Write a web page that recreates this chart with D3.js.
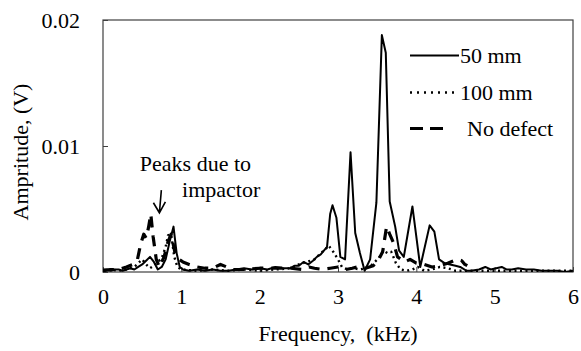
<!DOCTYPE html>
<html lang="en">

  <head>
    <meta charset="utf-8">
    <title>Amplitude spectrum</title>
    <script src="https://cdn.jsdelivr.net/npm/d3@7/dist/d3.min.js"></script>
  </head>

  <body style="margin: 0; background: #fff;">
    <svg width="581" height="351" id="mainsvg"></svg>
    <script>
      // ---- data ----
      const xTicks = [0, 1, 2, 3, 4, 5, 6];
      const yTicks = [0, 0.01, 0.02];
      const yTickLabels = ['0', '0.01', '0.02'];
      const seriesNames = ['50 mm', '100 mm', 'No defect'];

      // 50 mm (solid)
      const freq50 = [0, 0.05, 0.1, 0.15, 0.2, 0.25, 0.3, 0.35, 0.4, 0.45, 0.5, 0.55, 0.6, 0.65, 0.7, 0.75, 0.8, 0.85, 0.9, 0.94, 0.98, 1.02,
        1.1, 1.2, 1.3, 1.4, 1.5, 1.6, 1.7, 1.8, 1.9, 2.0, 2.1, 2.2, 2.3, 2.39, 2.45, 2.5, 2.56, 2.62, 2.68, 2.73, 2.78, 2.82, 2.86, 2.9, 2.93,
        2.98, 3.03, 3.09, 3.16, 3.22, 3.28, 3.34, 3.41, 3.49, 3.56, 3.61, 3.66, 3.73, 3.78, 3.84, 3.95, 4.05, 4.17, 4.23, 4.29, 4.36, 4.43,
        4.5, 4.56, 4.64, 4.7, 4.8, 4.88, 4.95, 5.02, 5.09, 5.15, 5.22, 5.3, 5.4, 5.5, 5.6, 5.7, 5.8, 5.9, 6.0];
      const amp50 = [0.0002, 0.0002, 0.0001, 0.0002, 0.0002, 0.0001, 0.0002, 0.0003, 0.0002, 0.0004, 0.0006, 0.0009, 0.0012, 0.0008, 0.0002, 0.0004, 0.0010, 0.0024, 0.0036, 0.0015, 0.0004, 0.0002,
        0.0001, 0.0002, 0.0001, 0.0002, 0.0001, 0.0001, 0.0002, 0.0003, 0.0002, 0.0003, 0.0002, 0.0004, 0.0003, 0.0003, 0.0005, 0.0005, 0.0008, 0.0006, 0.0009, 0.0012, 0.0014, 0.0017, 0.0020, 0.0046, 0.0053,
        0.0043, 0.0012, 0.0010, 0.0095, 0.0031, 0.0015, 0.0001, 0.0010, 0.0055, 0.0188, 0.0174, 0.0056, 0.0036, 0.0017, 0.0012, 0.0052, 0.0004, 0.0037, 0.0032, 0.0010, 0.0007, 0.0006,
        0.0005, 0.0004, 0.0001, 0.0001, 0.0002, 0.0004, 0.0002, 0.0003, 0.0004, 0.0002, 0.0002, 0.0003, 0.0002, 0.0002, 0.0001, 0.0001, 0.0001, 0.0000, 0.0001];

      // 100 mm (dotted)
      const freq100 = [0, 0.1, 0.2, 0.3, 0.4, 0.45, 0.5, 0.55, 0.6, 0.65, 0.7, 0.75, 0.8, 0.83, 0.87, 0.91, 0.95, 1.0, 1.2, 1.4, 1.6, 1.8,
        2.0, 2.2, 2.4, 2.5, 2.6, 2.7, 2.78, 2.84, 2.88, 2.94, 3.0, 3.05, 3.12, 3.2, 3.28, 3.35, 3.42, 3.47, 3.52, 3.58, 3.63, 3.68, 3.74,
        3.8, 3.88, 3.95, 4.02, 4.1, 4.2, 4.3, 4.4, 4.5, 4.7, 4.9, 5.1, 5.3, 5.5, 5.7, 5.9, 6.0];
      const amp100 = [0.0001, 0.0002, 0.0001, 0.0002, 0.0004, 0.0007, 0.0010, 0.0006, 0.0003, 0.0005, 0.0008, 0.0011, 0.0020, 0.0029, 0.0030, 0.0012, 0.0004, 0.0002, 0.0001, 0.0002, 0.0001, 0.0002,
        0.0001, 0.0002, 0.0003, 0.0006, 0.0008, 0.0010, 0.0015, 0.0018, 0.0021, 0.0016, 0.0010, 0.0004, 0.0002, 0.0003, 0.0002, 0.0003, 0.0005, 0.0008, 0.0011, 0.0017, 0.0015, 0.0016, 0.0007,
        0.0002, 0.0001, 0.0002, 0.0004, 0.0001, 0.0002, 0.0004, 0.0003, 0.0001, 0.0001, 0.0001, 0.0001, 0.0001, 0.0001, 0.0001, 0.0001, 0.0001];

      // No defect (dashed)
      const freqNo = [0, 0.1, 0.2, 0.3, 0.38, 0.44, 0.48, 0.52, 0.55, 0.58, 0.61, 0.64, 0.68, 0.72, 0.78, 0.83, 0.87, 0.92, 0.97, 1.02,
        1.1, 1.2, 1.3, 1.4, 1.5, 1.58, 1.65, 1.8, 2.0, 2.2, 2.4, 2.55, 2.63, 2.7, 2.8, 2.9, 3.0, 3.1, 3.18, 3.25, 3.35, 3.45, 3.52,
        3.57, 3.62, 3.66, 3.71, 3.76, 3.85, 3.92, 4.0, 4.1, 4.2, 4.3, 4.4, 4.48, 4.53, 4.58, 4.62, 4.65];
      const ampNo = [0.0001, 0.0002, 0.0002, 0.0004, 0.0006, 0.0010, 0.0022, 0.0030, 0.0027, 0.0035, 0.0046, 0.0028, 0.0010, 0.0004, 0.0012, 0.0024, 0.0030, 0.0015, 0.0010, 0.0008,
        0.0006, 0.0004, 0.0003, 0.0003, 0.0006, 0.0004, 0.0002, 0.0002, 0.0003, 0.0003, 0.0003, 0.0002, 0.0004, 0.0003, 0.0002, 0.0003, 0.0004, 0.0002, 0.0003, 0.0004, 0.0003, 0.0005, 0.0010,
        0.0016, 0.0036, 0.0030, 0.0023, 0.0012, 0.0008, 0.0010, 0.0007, 0.0006, 0.0004, 0.0005, 0.0007, 0.0009, 0.0010, 0.0009, 0.0006, 0.0005];

      const svg = d3.select('#mainsvg');
      const width = +svg.attr('width');
      const height = +svg.attr('height');
      const margin = { top: 20, right: 8, bottom: 79, left: 103 };
      const innerWidth = width - margin.left - margin.right;
      const innerHeight = height - margin.top - margin.bottom;
      const fontSize = 22;
      const fontFamily = 'Liberation Serif';

      const xScale = d3.scaleLinear().domain([0, 6]).range([0, innerWidth]);
      const yScale = d3.scaleLinear().domain([0, 0.02]).range([innerHeight, 0]);

      const g = svg.append('g')
        .attr('transform', `translate(${margin.left}, ${margin.top})`)
        .attr('id', 'maingroup');

      // 坐标轴 (inward ticks)
      const xAxis = d3.axisBottom(xScale).tickValues(xTicks).tickSize(-5).tickPadding(16).tickFormat(d3.format('d'));
      const yAxis = d3.axisLeft(yScale).tickValues(yTicks).tickSize(-5).tickPadding(23)
        .tickFormat((d, i) => yTickLabels[i]);

      const xAxisGroup = g.append('g').attr('transform', `translate(0, ${innerHeight})`).call(xAxis);
      const yAxisGroup = g.append('g').call(yAxis);
      [xAxisGroup, yAxisGroup].forEach(ax => {
        ax.selectAll('.domain').remove();
        ax.selectAll('.tick line').attr('stroke', '#404040');
        ax.selectAll('.tick text').attr('fill', '#000')
          .style('font-family', fontFamily).style('font-size', fontSize + 'px');
      });
      xAxisGroup.selectAll('.tick text').attr('dy', '0.71em');

      // plot frame
      g.append('rect')
        .attr('x', 0).attr('y', 0)
        .attr('width', innerWidth).attr('height', innerHeight)
        .attr('fill', 'none')
        .attr('stroke', '#404040')
        .attr('stroke-width', 1.2);

      // clip
      svg.append('defs').append('clipPath').attr('id', 'clip')
        .append('rect').attr('x', 0).attr('y', -2).attr('width', innerWidth).attr('height', innerHeight + 2);

      const line = d3.line()
        .x(d => xScale(d[0]))
        .y(d => yScale(d[1]));

      const series = [
        { name: seriesNames[0], pts: d3.zip(freq50, amp50), width: 2, dash: null },
        { name: seriesNames[1], pts: d3.zip(freq100, amp100), width: 2.4, dash: '2,3.5' },
        { name: seriesNames[2], pts: d3.zip(freqNo, ampNo), width: 3.2, dash: '11,8' }
      ];

      const lines = g.append('g').attr('clip-path', 'url(#clip)');
      // draw order: dashed, dotted, then solid on top
      [series[2], series[1], series[0]].forEach(s => {
        lines.append('path')
          .datum(s.pts)
          .attr('d', line)
          .attr('fill', 'none')
          .attr('stroke', '#000')
          .attr('stroke-width', s.width)
          .attr('stroke-linejoin', 'round')
          .attr('stroke-dasharray', s.dash);
      });

      const addText = (parent, str) => parent.append('text')
        .style('font-family', fontFamily)
        .style('font-size', fontSize + 'px')
        .attr('fill', '#000')
        .text(str);

      // 图例
      const legendX = 307;
      const legendRows = [35.5, 72.5, 108.5];
      const legendLen = [49, 47, 33];
      const legendDash = [null, '2,5', '13,7'];
      const legendTextX = [357, 357, 364];
      const legend = g.selectAll('.legend')
        .data(series)
        .enter().append('g')
        .attr('class', 'legend')
        .attr('transform', (d, i) => `translate(${legendX}, ${legendRows[i]})`);
      legend.append('line')
        .attr('x1', 0)
        .attr('x2', (d, i) => legendLen[i])
        .attr('y1', 0).attr('y2', 0)
        .attr('stroke', '#000')
        .attr('stroke-width', d => d.width)
        .attr('stroke-dasharray', (d, i) => legendDash[i]);
      legend.each(function (d, i) {
        addText(d3.select(this), d.name)
          .attr('x', legendTextX[i] - legendX)
          .attr('y', 7);
      });

      // annotation
      addText(g, 'Peaks due to')
        .attr('x', xScale(0.47)).attr('y', 151);
      addText(g, 'impactor')
        .attr('x', xScale(1.01)).attr('y', 177);
      const ax0 = xScale(0.745), ay0 = yScale(0.0065);
      const ax1 = xScale(0.72), ay1 = yScale(0.0047);
      g.append('path')
        .attr('d', `M${ax0},${ay0}L${ax1},${ay1}M${ax1 - 6},${ay1 - 10}L${ax1},${ay1}L${ax1 + 6},${ay1 - 11}`)
        .attr('fill', 'none')
        .attr('stroke', '#000')
        .attr('stroke-width', 1.6);

      // axis titles
      addText(svg, 'Frequency,\u00a0 (kHz)')
        .attr('x', margin.left + innerWidth / 2)
        .attr('y', 341)
        .attr('text-anchor', 'middle');
      addText(svg, 'Ampritude, (V)')
        .attr('transform', `translate(28, 152) rotate(-90)`)
        .attr('text-anchor', 'middle');
    </script>
  </body>
</html>
